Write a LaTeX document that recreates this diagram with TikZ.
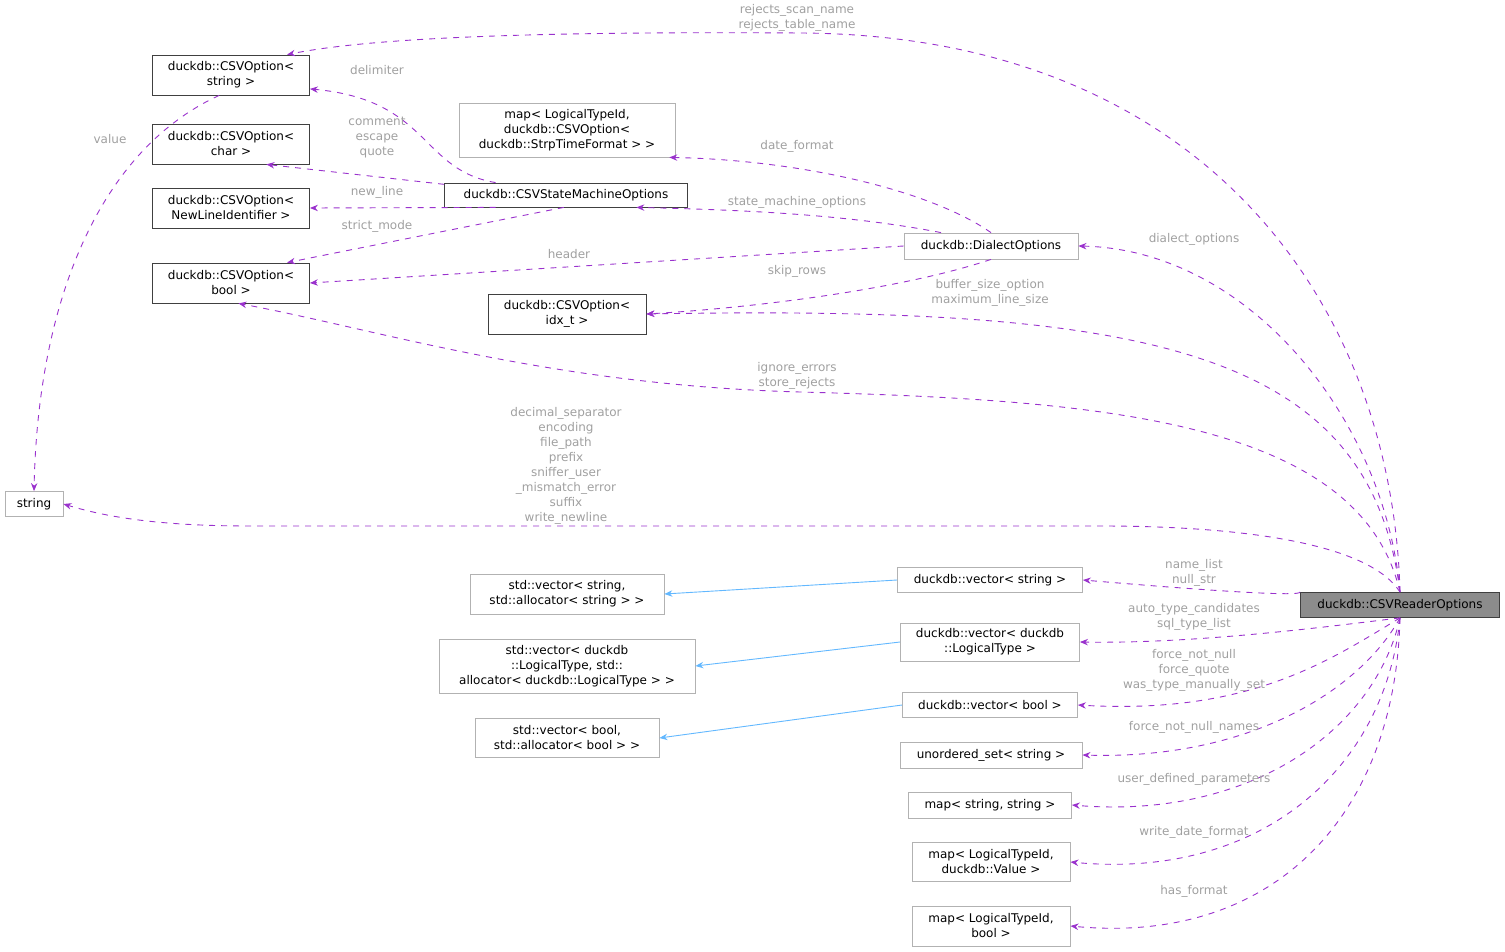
\documentclass[tikz,border=0pt]{standalone}
\usepackage{fontspec}
\setmainfont{DejaVu Sans}
\usetikzlibrary{arrows.meta}
\definecolor{memb}{RGB}{154,50,205}
\definecolor{inh}{RGB}{99,184,255}
\definecolor{lbl}{RGB}{160,160,160}
\begin{document}
\begin{tikzpicture}[x=0.5pt, y=-0.5pt,
    every node/.style={font=\fontsize{6}{7.5}\selectfont, align=center, inner sep=1pt},
    cls/.style={draw=black!75, line width=0.4pt},
    ext/.style={draw=black!30, line width=0.4pt},
    use/.style={memb, dashed, line width=0.45pt, -{Stealth[length=4pt, width=3.2pt]}},
    isa/.style={inh, line width=0.45pt, -{Stealth[length=4pt, width=3.2pt]}},
    lab/.style={text=lbl}]

    \useasboundingbox (0,0) rectangle (1505,952);

    % classes
    \node[cls, fill=black!45, minimum width=99.5pt, minimum height=12.5pt] (reader) at (1400,605) {duckdb::CSVReaderOptions};
    \node[cls, minimum width=78.5pt, minimum height=20pt] (cstr) at (231,75) {duckdb::CSVOption<\\string >};
    \node[cls, minimum width=78.5pt, minimum height=20pt] (cchar) at (231,144) {duckdb::CSVOption<\\char >};
    \node[cls, minimum width=78.5pt, minimum height=20pt] (cnl) at (231,208) {duckdb::CSVOption<\\NewLineIdentifier >};
    \node[cls, minimum width=78.5pt, minimum height=20pt] (cbool) at (231,283) {duckdb::CSVOption<\\bool >};
    \node[ext, minimum width=29pt, minimum height=12.5pt] (str) at (34,504) {string};
    \node[ext, minimum width=108pt, minimum height=27pt] (mstrp) at (567,130) {map< LogicalTypeId,\\duckdb::CSVOption<\\duckdb::StrpTimeFormat > >};
    \node[cls, minimum width=121.5pt, minimum height=12pt] (sm) at (566,195) {duckdb::CSVStateMachineOptions};
    \node[ext, minimum width=87pt, minimum height=13pt] (dial) at (991,246) {duckdb::DialectOptions};
    \node[cls, minimum width=79pt, minimum height=20pt] (cidx) at (567,314) {duckdb::CSVOption<\\idx\_t >};
    \node[ext, minimum width=97pt, minimum height=20pt] (svstr) at (567,594) {std::vector< string,\\std::allocator< string > >};
    \node[ext, minimum width=92.5pt, minimum height=12.5pt] (vstr) at (990,580) {duckdb::vector< string >};
    \node[ext, minimum width=128pt, minimum height=27pt] (svlt) at (567,666) {std::vector< duckdb\\::LogicalType, std::\\allocator< duckdb::LogicalType > >};
    \node[ext, minimum width=89.5pt, minimum height=19pt] (vlt) at (990,642) {duckdb::vector< duckdb\\::LogicalType >};
    \node[ext, minimum width=92pt, minimum height=19.5pt] (svbool) at (567,738) {std::vector< bool,\\std::allocator< bool > >};
    \node[ext, minimum width=87.5pt, minimum height=12.5pt] (vbool) at (990,705) {duckdb::vector< bool >};
    \node[ext, minimum width=91pt, minimum height=13pt] (uset) at (991,755) {unordered\_set< string >};
    \node[ext, minimum width=81.5pt, minimum height=13pt] (mss) at (990,805) {map< string, string >};
    \node[ext, minimum width=79pt, minimum height=19.5pt] (mltv) at (991,862) {map< LogicalTypeId,\\duckdb::Value >};
    \node[ext, minimum width=79pt, minimum height=20pt] (mltb) at (991,926) {map< LogicalTypeId,\\bool >};

    % inheritance
    \draw[isa] (vstr.west) -- (svstr.east);
    \draw[isa] (vlt.west) -- (svlt.east);
    \draw[isa] (vbool.west) -- (svbool.east);

    % members of the reader options
    \draw[use] (reader.north) .. controls (1392,300) and (1200,35) .. (800,33) .. controls (500,31) and (360,40) .. (cstr.20);
    \draw[use] (reader.north) .. controls (1385,420) and (1250,250) .. (dial.east);
    \draw[use] (reader.north) .. controls (1370,350) and (1150,305) .. (cidx.east);
    \draw[use] (reader.north) .. controls (1360,420) and (1100,400) .. (800,392) .. controls (550,385) and (380,330) .. (cbool.-70);
    \draw[use] (reader.north) .. controls (1370,545) and (1250,526) .. (1100,526) -- (250,526) .. controls (150,526) and (100,515) .. (str.east);
    \draw[use] (reader.north west) .. controls (1300,597) and (1200,590) .. (vstr.east);
    \draw[use] (reader.south) .. controls (1340,625) and (1200,644) .. (vlt.east);
    \draw[use] (reader.south) .. controls (1330,660) and (1250,715) .. (vbool.east);
    \draw[use] (reader.south) .. controls (1360,690) and (1250,760) .. (uset.east);
    \draw[use] (reader.south) .. controls (1375,730) and (1250,820) .. (mss.east);
    \draw[use] (reader.south) .. controls (1385,770) and (1260,880) .. (mltv.east);
    \draw[use] (reader.south) .. controls (1395,820) and (1270,945) .. (mltb.east);

    % members of the dialect options
    \draw[use] (dial.north) .. controls (930,190) and (800,160) .. (mstrp.-15);
    \draw[use] (dial.165) .. controls (850,215) and (750,210) .. (sm.-10);
    \draw[use] (dial.west) -- (cbool.east);
    \draw[use] (dial.south) .. controls (900,290) and (750,308) .. (cidx.east);

    % members of the state machine options
    \draw[use] (sm.170) .. controls (420,170) and (430,100) .. (cstr.-10);
    \draw[use] (sm.175) -- (cchar.-30);
    \draw[use] (sm.190) -- (cnl.east);
    \draw[use] (sm.-100) .. controls (450,230) and (350,250) .. (cbool.20);

    \draw[use] (cstr.-120) .. controls (100,150) and (38,300) .. (str.north);

    % labels
    \node[lab] (lscan) at (797,18) {rejects\_scan\_name\\rejects\_table\_name};
    \node[lab] (ldial) at (1194,239) {dialect\_options};
    \node[lab] (lbuf) at (990,293) {buffer\_size\_option\\maximum\_line\_size};
    \node[lab] (lign) at (797,376) {ignore\_errors\\store\_rejects};
    \node[lab] (lstr) at (566,466) {decimal\_separator\\encoding\\file\_path\\prefix\\sniffer\_user\\\_mismatch\_error\\suffix\\write\_newline};
    \node[lab] (lname) at (1194,573) {name\_list\\null\_str};
    \node[lab] (lauto) at (1194,617) {auto\_type\_candidates\\sql\_type\_list};
    \node[lab] (lforce) at (1194,670) {force\_not\_null\\force\_quote\\was\_type\_manually\_set};
    \node[lab] (lfnames) at (1194,727) {force\_not\_null\_names};
    \node[lab] (luser) at (1194,779) {user\_defined\_parameters};
    \node[lab] (lwdate) at (1194,832) {write\_date\_format};
    \node[lab] (lhas) at (1194,891) {has\_format};
    \node[lab] (ldate) at (797,146) {date\_format};
    \node[lab] (lsm) at (797,202) {state\_machine\_options};
    \node[lab] (lhead) at (569,254) {header};
    \node[lab] (lskip) at (797,271) {skip\_rows};
    \node[lab] (ldelim) at (377,70) {delimiter};
    \node[lab] (lcomm) at (377,138) {comment\\escape\\quote};
    \node[lab] (lnl) at (377,192) {new\_line};
    \node[lab] (lstrict) at (377,226) {strict\_mode};
    \node[lab] (lval) at (110,139) {value};
\end{tikzpicture}
\end{document}
